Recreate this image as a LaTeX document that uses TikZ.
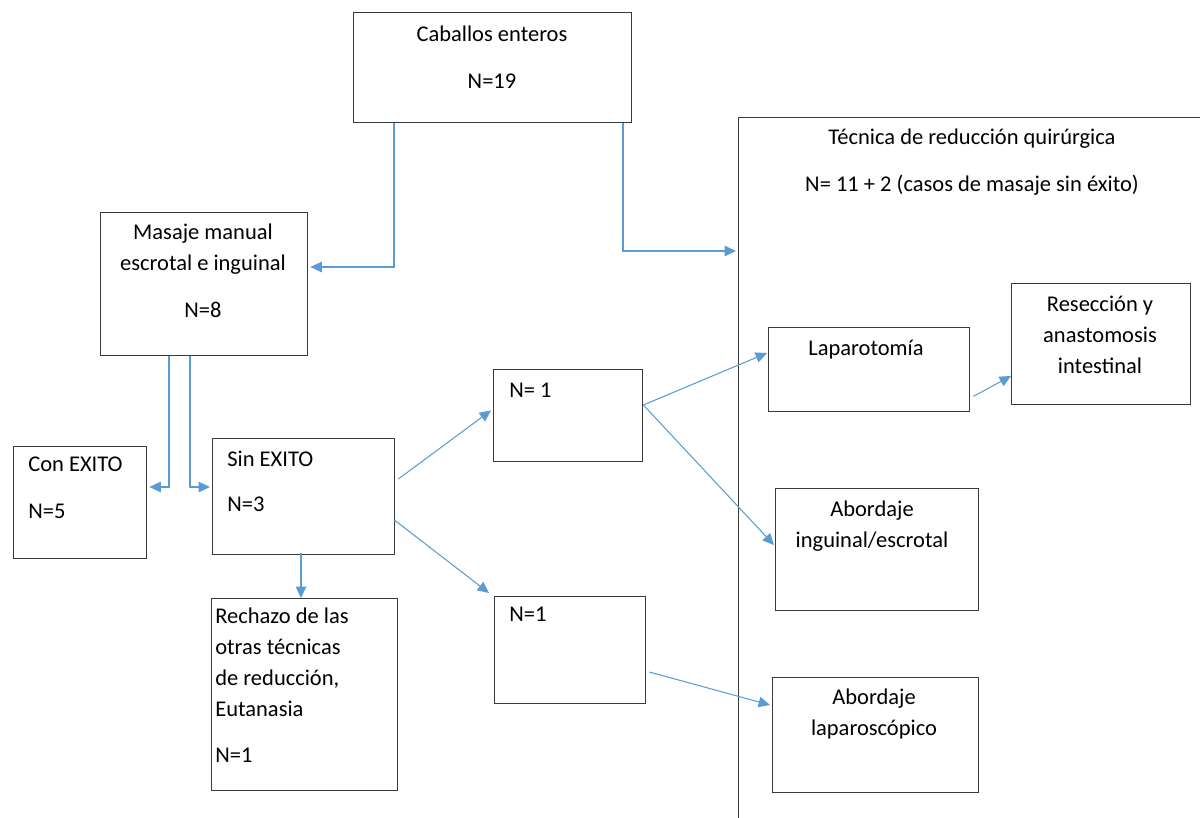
\documentclass[tikz,border=0pt]{standalone}
\usepackage{fontspec}
\setmainfont{Carlito}
\usepackage{xcolor}
\usepackage{tikz}
\usetikzlibrary{arrows.meta,positioning,calc}
\definecolor{lineblue}{HTML}{5B9BD5}
\definecolor{boxgray}{HTML}{3A3A3A}

\begin{document}
\begin{tikzpicture}[
  x=0.02cm, y=-0.02cm,
  box/.style={draw=boxgray,line width=0.8pt,anchor=north west,inner sep=0pt},
  txt/.style={inner sep=0pt,font=\fontsize{12.8}{17.6}\selectfont,align=center,anchor=north},
  ltxt/.style={txt,align=left,anchor=north west},
  arr/.style={-{Triangle[length=6.5pt,width=6pt]},lineblue,line width=0.6pt}
]
\useasboundingbox (0,0) rectangle (1200,818);
% boxes
\node[box,minimum width=5.56cm,minimum height=2.2cm] (cab) at (353,12) {};
\node[box,minimum width=4.14cm,minimum height=2.86cm] (mas) at (100,212) {};
\node[box,minimum width=2.66cm,minimum height=2.24cm] (con) at (13,446) {};
\node[box,minimum width=3.64cm,minimum height=2.32cm] (sin) at (212,438) {};
\node[box,minimum width=3.72cm,minimum height=3.84cm] (rec) at (211,598) {};
\node[box,minimum width=2.98cm,minimum height=1.84cm] (n1a) at (493,369) {};
\node[box,minimum width=3.02cm,minimum height=2.14cm] (n1b) at (494,596) {};
\node[box,minimum width=10.04cm,minimum height=14.86cm] (tec) at (738,117) {};
\node[box,minimum width=4.02cm,minimum height=1.68cm] (lap) at (768,327) {};
\node[box,minimum width=3.58cm,minimum height=2.42cm] (res) at (1011,283) {};
\node[box,minimum width=4.06cm,minimum height=2.44cm] (ing) at (775,488) {};
\node[box,minimum width=4.12cm,minimum height=2.3cm] (lps) at (772,677) {};

% texts
\node[txt] (cabT) at (492,26) {Caballos enteros\\[9pt]N=19};
\node[txt] (masT) at (203,224) {Masaje manual\\escrotal e inguinal\\[9pt]N=8};
\node[ltxt] (conT) at (28,457) {Con EXITO\\[9pt]N=5};
\node[ltxt] (sinT) at (227,451) {Sin EXITO\\[8pt]N=3};
\node[ltxt] (recT) at (215,608) {Rechazo de las\\otras técnicas\\de reducción,\\Eutanasia\\[8.5pt]N=1};
\node[ltxt] (n1aT) at (509,383) {N= 1};
\node[ltxt] (n1bT) at (509,607) {N=1};
\node[txt] (tecT) at (972,129) {Técnica de reducción quirúrgica\\[9pt]N= 11 + 2 (casos de masaje sin éxito)};
\node[txt] (lapT) at (866,340) {Laparotomía};
\node[txt] (resT) at (1100,296) {Resección y\\anastomosis\\intestinal};
\node[txt] (ingT) at (872,501) {Abordaje\\inguinal/escrotal};
\node[txt] (lpsT) at (874,689) {Abordaje\\laparoscópico};

% connectors
\draw[arr] ($(cab.south west)+(41,0)$) |- ($(mas.north east)+(2,55)$);
\draw[arr] ($(cab.south west)+(270,0)$) |- ($(tec.north west)+(-2,134)$);
\draw[arr] ($(mas.south west)+(69,0)$) |- ($(con.north east)+(2,41)$);
\draw[arr] ($(mas.south west)+(90,0)$) |- ($(sin.north west)+(-2,49)$);
\draw[arr] ($(sin.south west)+(89,-2)$) -- ($(rec.north west)+(90,0)$);
\draw[arr] ($(sin.north east)+(3,41)$) -- ($(n1a.south west)+(-2,-52)$);
\draw[arr] ($(sin.north east)+(-1,82)$) -- ($(n1b.north west)+(-5,-3)$);
\draw[arr] ($(n1a.north east)+(0,36)$) -- ($(lap.north west)+(-1,26)$);
\draw[arr] ($(n1a.north east)+(0,36)$) -- ($(ing.north west)+(-1,57)$);
\draw[arr] ($(n1b.north east)+(3,76)$) -- ($(lps.north west)+(-2,28)$);
\draw[arr] ($(lap.south east)+(3,-16)$) -- ($(res.north west)+(0,93)$);
\end{tikzpicture}
\end{document}
